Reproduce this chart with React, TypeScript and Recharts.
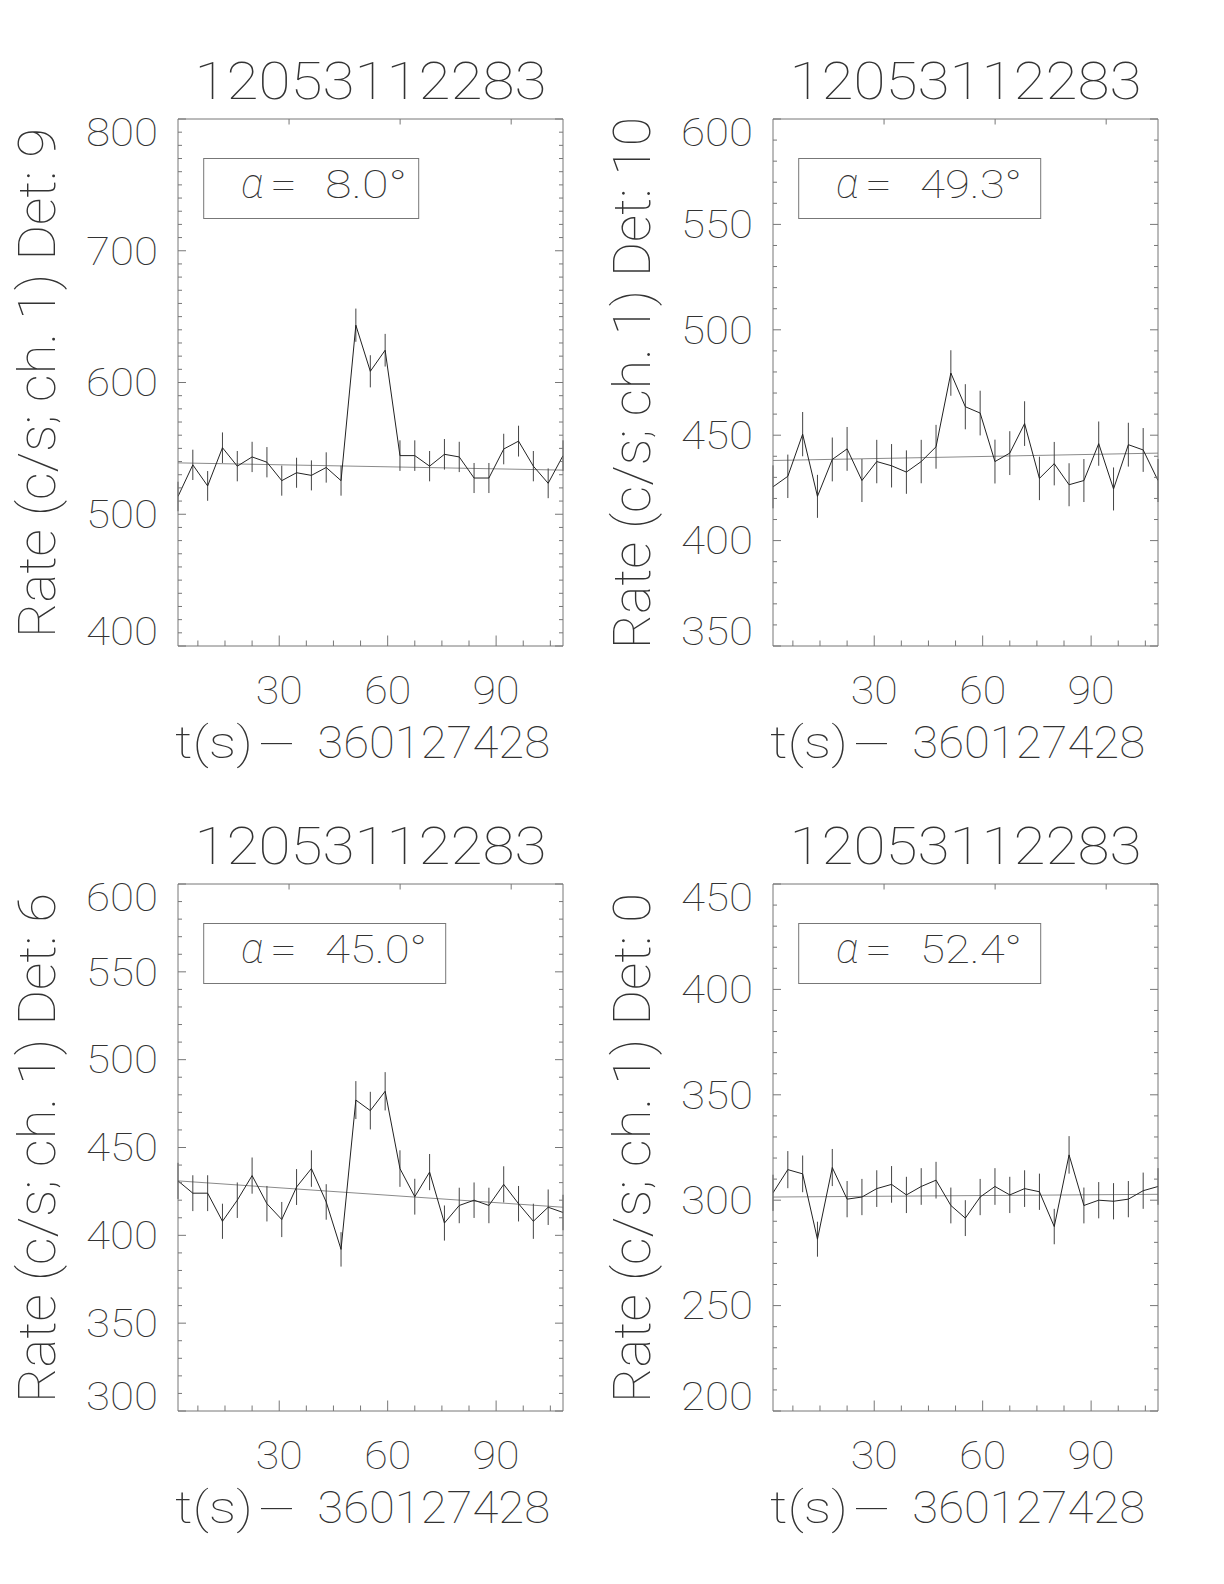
import React from 'react'
import { ComposedChart, Line, XAxis, YAxis, ErrorBar, ReferenceLine, Label } from 'recharts'

// time of each bin, seconds after 360127428
const times = [2.0, 6.1, 10.2, 14.3, 18.4, 22.5, 26.6, 30.7, 34.8, 38.9, 43.0, 47.1, 51.2, 55.2, 59.3, 63.4, 67.5, 71.6, 75.7, 79.8, 83.9, 88.0, 92.1, 96.2, 100.3, 104.4, 108.5]

const det9Rate = [513.5, 537.5, 521.5, 550.5, 536.5, 543.5, 539.5, 525.5, 531.5, 529.5, 535.5, 525.5, 643.5, 608.5, 624.5, 544.5, 544.5, 536.5, 545.5, 543.5, 527.5, 527.5, 549.5, 555.5, 536.5, 523.5, 544.5]
const det9Err = [11.2, 11.5, 11.3, 11.6, 11.5, 11.5, 11.5, 11.4, 11.4, 11.4, 11.5, 11.4, 12.6, 12.2, 12.4, 11.6, 11.6, 11.5, 11.6, 11.5, 11.4, 11.4, 11.6, 11.7, 11.5, 11.3, 11.6]
const det9Fit = [539, 533.5]

const det10Rate = [425.5, 430.5, 450.5, 421, 438.5, 443.5, 428.5, 437.5, 435.5, 432.5, 437.5, 444.5, 479.5, 463.5, 460.5, 437.5, 441.5, 455.5, 429.5, 436.5, 426.5, 428.5, 446, 424.5, 445.5, 443, 428.5]
const det10Err = [10.2, 10.3, 10.5, 10.2, 10.4, 10.4, 10.2, 10.3, 10.3, 10.3, 10.3, 10.4, 10.8, 10.7, 10.6, 10.4, 10.4, 10.6, 10.3, 10.3, 10.2, 10.2, 10.5, 10.2, 10.4, 10.4, 10.2]
const det10Fit = [438, 441.5]

const det6Rate = [431, 424, 424, 408, 420, 434, 418, 409, 427.5, 438, 419, 392, 477, 471, 482, 438, 422, 436, 407, 417, 420, 417, 429, 418, 408, 416, 413]
const det6Err = [10.3, 10.2, 10.2, 10.0, 10.1, 10.3, 10.1, 10.0, 10.2, 10.4, 10.1, 9.8, 10.8, 10.7, 10.9, 10.4, 10.2, 10.3, 10.0, 10.1, 10.1, 10.1, 10.3, 10.1, 10.0, 10.1, 10.1]
const det6Fit = [431, 416]

const det0Rate = [303.5, 314.5, 312.5, 281.5, 315.5, 300.5, 301.5, 305.5, 307.5, 302.5, 306.5, 309.5, 297.5, 291.5, 301.5, 306.5, 302.5, 305.5, 304, 287.5, 321.5, 297.5, 300, 299.5, 300.5, 304.5, 306.5]
const det0Err = [8.6, 8.8, 8.7, 8.3, 8.8, 8.6, 8.6, 8.7, 8.7, 8.6, 8.7, 8.7, 8.5, 8.5, 8.6, 8.7, 8.6, 8.7, 8.6, 8.4, 8.9, 8.5, 8.6, 8.6, 8.6, 8.6, 8.7]
const det0Fit = [301.5, 302.8]

const xMajor = [30, 60, 90]
const det9Ticks = [400, 500, 600, 700, 800]
const det10Ticks = [350, 400, 450, 500, 550, 600]
const det6Ticks = [300, 350, 400, 450, 500, 550, 600]
const det0Ticks = [200, 250, 300, 350, 400, 450]

const title = '12053112283'

const AXIS = '#777'
const INK = '#222'
const TEXT = '#333'
const FONT = 'Roboto, sans-serif'
const WEIGHT = 100

const PANEL_W = 595
const PANEL_STEP = 765
const PANEL_H = 792
const BOX = { left: 178, top: 119, width: 385, height: 527 }

function steps(lo: number, hi: number, step: number) {
  const out: number[] = []
  for (let v = Math.ceil(lo / step - 1e-9) * step; v <= hi + 1e-9; v += step) out.push(Math.round(v * 100) / 100)
  return out
}

const panels = [
  { det: '9', rate: det9Rate, err: det9Err, fit: det9Fit, ticks: det9Ticks, alpha: '8.0', legendW: 215, yTitleLen: 510 },
  { det: '10', rate: det10Rate, err: det10Err, fit: det10Fit, ticks: det10Ticks, alpha: '49.3', legendW: 242, yTitleLen: 532 },
  { det: '6', rate: det6Rate, err: det6Err, fit: det6Fit, ticks: det6Ticks, alpha: '45.0', legendW: 242, yTitleLen: 510 },
  { det: '0', rate: det0Rate, err: det0Err, fit: det0Fit, ticks: det0Ticks, alpha: '52.4', legendW: 242, yTitleLen: 510 },
]

type PanelProps = (typeof panels)[number]

const textStyle = { fontFamily: FONT, fontWeight: WEIGHT, fill: TEXT }

function Panel({ det, rate, err, fit, ticks, alpha, legendW, yTitleLen }: PanelProps) {
  const rows = times.map((t, i) => ({ t, rate: rate[i], err: err[i] }))
  const xDomain = [times[0], times[times.length - 1]]
  const yDomain = [ticks[0], ticks[ticks.length - 1]]
  const xMinor = steps(xDomain[0], xDomain[1], 7.5)
  const yMinor = steps(yDomain[0], yDomain[1], 10)
  const bottom = BOX.top + BOX.height

  const xTick = (side: 'top' | 'bottom') => (p: any) => {
    const v = p.payload.value
    const major = xMajor.includes(v)
    const len = major ? 10.5 : 5.5
    const dir = side === 'bottom' ? -1 : 1
    const label = String(v)
    return (
      <g>
        <line x1={p.x} y1={p.y} x2={p.x} y2={p.y + dir * len} stroke={AXIS} strokeWidth={1} />
        {side === 'bottom' && major && (
          <text x={p.x} y={p.y + 58} textAnchor="middle" fontSize={39} textLength={label.length * 23.5}
            lengthAdjust="spacingAndGlyphs" style={textStyle}>
            {label}
          </text>
        )}
      </g>
    )
  }

  const yTick = (side: 'left' | 'right') => (p: any) => {
    const v = p.payload.value
    const major = ticks.includes(v)
    const len = major ? 8 : 4
    const dir = side === 'left' ? 1 : -1
    const cy = Math.min(Math.max(p.y, BOX.top + 13.5), bottom - 15)
    const label = String(v)
    return (
      <g>
        <line x1={p.x} y1={p.y} x2={p.x + dir * len} y2={p.y} stroke={AXIS} strokeWidth={1} />
        {side === 'left' && major && (
          <text x={p.x - 20} y={cy + 13.8} textAnchor="end" fontSize={39} textLength={label.length * 24}
            lengthAdjust="spacingAndGlyphs" style={textStyle}>
            {label}
          </text>
        )}
      </g>
    )
  }

  const header = () => (
    <g>
      <text x={BOX.left + BOX.width / 2} y={99} textAnchor="middle" fontSize={52} textLength={352}
        lengthAdjust="spacingAndGlyphs" style={textStyle}>
        {title}
      </text>
      <rect x={BOX.left + 25.7} y={158.5} width={legendW} height={60} fill="none" stroke={AXIS} strokeWidth={1} />
      <text y={198} fontSize={39} style={textStyle}>
        <tspan x={BOX.left + 63} fontStyle="italic" fontSize={42}>α</tspan>
        <tspan x={BOX.left + 92} textLength={27} lengthAdjust="spacingAndGlyphs">=</tspan>
        <tspan x={BOX.left + 147} textLength={alpha.length * 20 + 22} lengthAdjust="spacingAndGlyphs">{alpha}°</tspan>
      </text>
    </g>
  )

  const footer = () => (
    <text y={758} fontSize={44} style={textStyle}>
      <tspan x={175} textLength={78} lengthAdjust="spacingAndGlyphs">t(s)</tspan>
      <tspan x={257} textLength={40} lengthAdjust="spacingAndGlyphs">-</tspan>
      <tspan x={306} textLength={244} lengthAdjust="spacingAndGlyphs"> 360127428</tspan>
    </text>
  )

  const yTitle = () => (
    <text x={55} y={383} transform="rotate(-90, 55, 383)" textAnchor="middle" fontSize={51} textLength={yTitleLen}
      lengthAdjust="spacingAndGlyphs" style={textStyle}>
      {`Rate (c/s; ch. 1) Det: ${det}`}
    </text>
  )

  // axes are 1px thick bands so they still render; margins shrink by 1 to keep the box in place
  return (
    <ComposedChart
      width={PANEL_W}
      height={PANEL_H}
      data={rows}
      margin={{ top: BOX.top - 1, left: BOX.left - 1, right: PANEL_W - BOX.left - BOX.width - 1, bottom: PANEL_H - bottom - 1 }}
    >
      <XAxis xAxisId={0} type="number" dataKey="t" domain={xDomain} allowDataOverflow ticks={xMinor} interval={0}
        height={1} tickSize={0} tickMargin={0} tickLine={false} axisLine={{ stroke: AXIS }} tick={xTick('bottom')}>
        <Label content={footer} />
      </XAxis>
      <XAxis xAxisId="top" orientation="top" type="number" domain={xDomain} allowDataOverflow ticks={xMinor} interval={0}
        height={1} tickSize={0} tickMargin={0} tickLine={false} axisLine={{ stroke: AXIS }} tick={xTick('top')}>
        <Label content={header} />
      </XAxis>
      <YAxis yAxisId={0} type="number" domain={yDomain} allowDataOverflow ticks={yMinor} interval={0}
        width={1} tickSize={0} tickMargin={0} tickLine={false} axisLine={{ stroke: AXIS }} tick={yTick('left')}>
        <Label content={yTitle} />
      </YAxis>
      <YAxis yAxisId="right" orientation="right" type="number" domain={yDomain} allowDataOverflow ticks={yMinor} interval={0}
        width={1} tickSize={0} tickMargin={0} tickLine={false} axisLine={{ stroke: AXIS }} tick={yTick('right')} />
      <ReferenceLine
        segment={[{ x: xDomain[0], y: fit[0] }, { x: xDomain[1], y: fit[1] }]}
        stroke="#8a8a8a"
        strokeWidth={1}
      />
      <Line type="linear" dataKey="rate" stroke={INK} strokeWidth={1} dot={false} isAnimationActive={false}>
        <ErrorBar dataKey="err" width={0} stroke="#444" strokeWidth={1} direction="y" isAnimationActive={false} />
      </Line>
    </ComposedChart>
  )
}

export default function App() {
  return (
    <div style={{ position: 'absolute', left: 0, top: 0, width: 1224, height: 1584, background: '#fff' }}>
      {panels.map((p, i) => (
        <div key={p.det} style={{ position: 'absolute', left: (i % 2) * PANEL_W, top: Math.floor(i / 2) * PANEL_STEP }}>
          <Panel {...p} />
        </div>
      ))}
    </div>
  )
}
